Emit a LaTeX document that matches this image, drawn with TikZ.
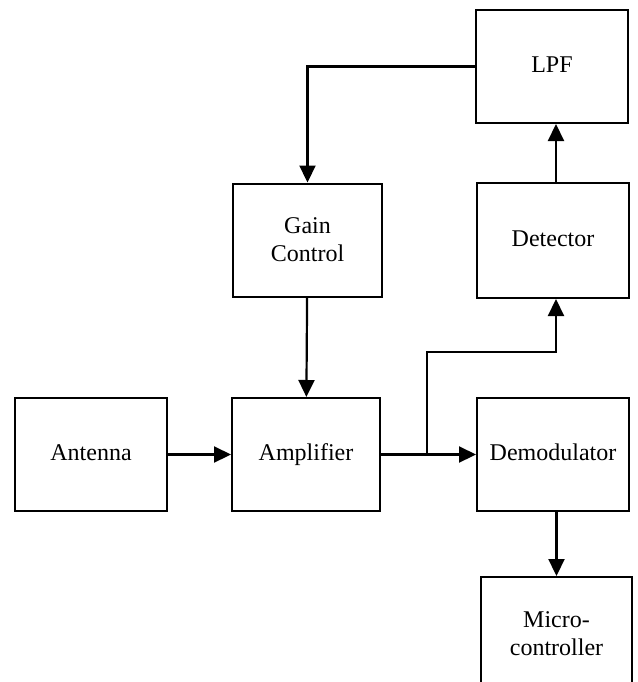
\documentclass[tikz,border=0pt]{standalone}
\usepackage{fontspec}
\setmainfont{Liberation Serif}
\usepackage{tikz}
\usetikzlibrary{arrows.meta, positioning, calc}
\tikzset{every node/.append style={align=center}}
\tikzset{
  blk/.style={rectangle, draw=black, line width=1pt, fill=white,
    minimum width=76pt, minimum height=56.5pt, font=\fontsize{12}{14}\selectfont,
    inner sep=0pt, align=center},
  single/.style={text height=8.2pt, text depth=2.6pt},
  arrow/.style={-{Triangle[length=8.5pt,width=8pt]}, line width=1.1pt, black}
}

\begin{document}
\begin{tikzpicture}[x=0.5pt, y=-0.5pt]
  \useasboundingbox (0,0) rectangle (638,682);
  \node[blk, single] (ant) at (91,454.5) {Antenna};
  \node[blk, single, minimum width=74pt] (amp) at (306,454.5) {Amplifier};
  \node[blk, minimum width=74.5pt] (gain) at (307.5,240) {Gain\\Control};
  \node[blk, single] (demod) at (553,454.5) {Demodulator};
  \node[blk, single, minimum height=57.5pt] (det) at (553,240.5) {Detector};
  \node[blk, single] (lpf) at (552,66.5) {LPF};
  \node[blk, minimum width=75.5pt] (mcu) at (556.5,633.5) {Micro-\\controller};
  \coordinate (split) at (427,454.5);
  \coordinate (bend) at (427,352);
  % signal path
  \draw[arrow] (ant) -- (amp);
  \draw[arrow] (amp) -- (demod);
  \draw[arrow] (split) -- (bend) -| ($(det.south)+(3,0)$);
  \draw[arrow] ($(det.north)+(3,0)$) -- ($(lpf.south)+(4,0)$);
  % feedback loop
  \draw[arrow] (lpf.west) -| (gain.north);
  \draw[arrow] (gain) -- (amp);
  \draw[arrow] (demod.south -| mcu.north) -- (mcu.north);
\end{tikzpicture}
\end{document}
